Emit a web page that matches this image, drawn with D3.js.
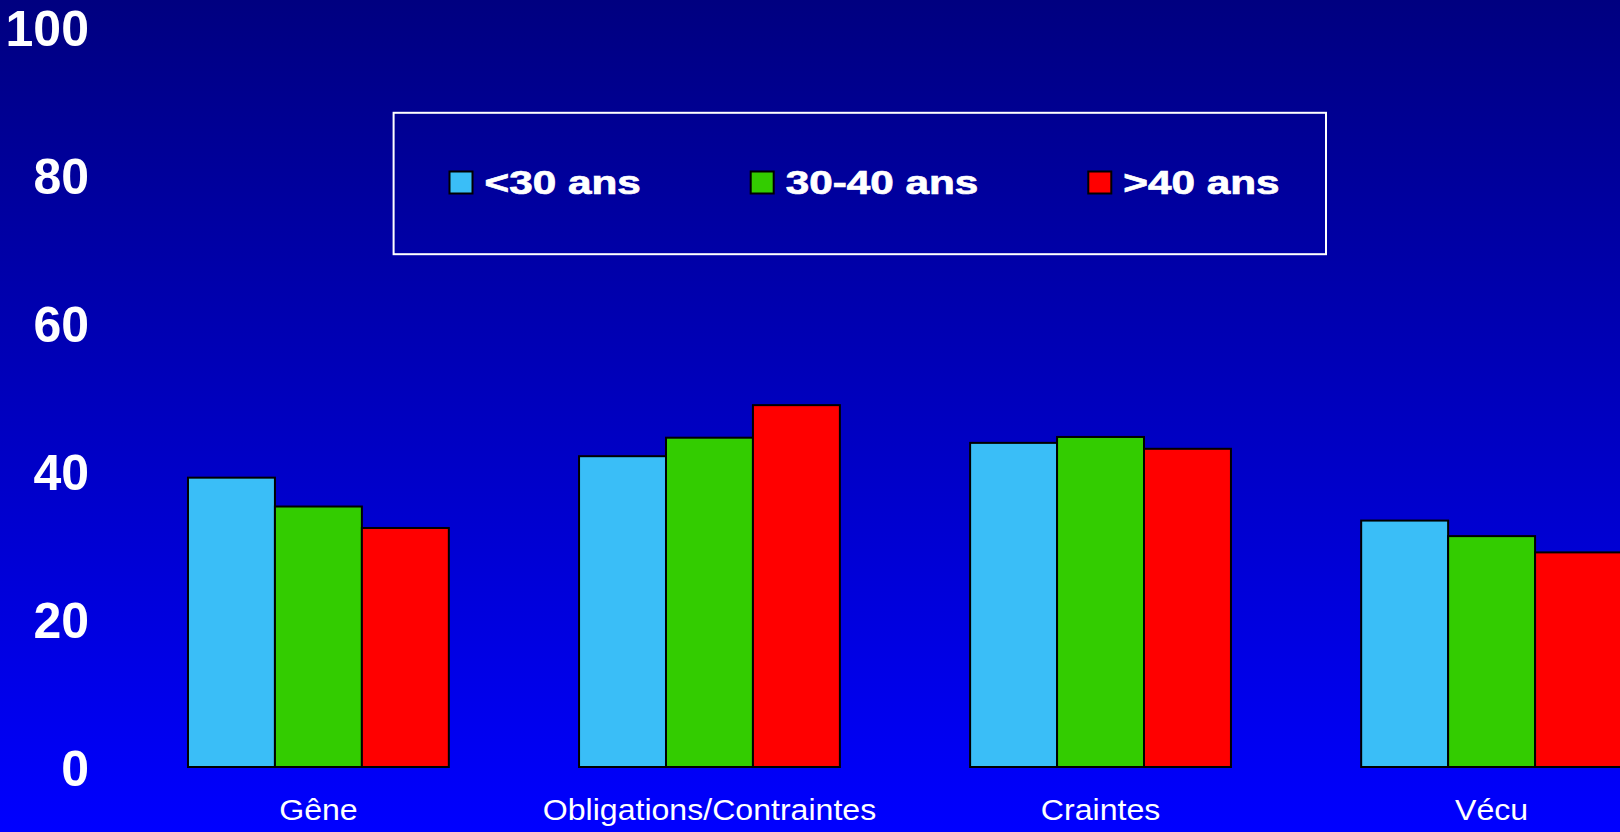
<!DOCTYPE html>
<html>
<head>
<meta charset="utf-8">
<script src="https://cdn.jsdelivr.net/npm/d3@7"></script>
<style>
  html, body { margin: 0; padding: 0; overflow: hidden; background: #0000ff; }
  svg { display: block; }
</style>
</head>
<body>
<svg id="chart" width="1620" height="832"></svg>
<script>
// ---- data ----
const categories = ["Gêne", "Obligations/Contraintes", "Craintes", "Vécu"];
const seriesNames = ["<30 ans", "30-40 ans", ">40 ans"];
const under30 = [39.1, 42.0, 43.8, 33.3];
const from30to40 = [35.2, 44.5, 44.6, 31.2];
const over40 = [32.3, 48.9, 43.0, 29.0];
const yTicks = [0, 20, 40, 60, 80, 100];
const seriesColors = ["#3abef7", "#33cc00", "#ff0000"];

const seriesValues = [under30, from30to40, over40];
const rows = categories.map((c, i) => ({
  category: c,
  values: seriesNames.map((s, j) => ({ series: s, value: seriesValues[j][i], color: seriesColors[j] }))
}));

const W = 1620, H = 832;
const svg = d3.select("#chart");

// background gradient
const defs = svg.append("defs");
const grad = defs.append("linearGradient").attr("id", "bg").attr("x1", 0).attr("y1", 0).attr("x2", 0).attr("y2", 1);
grad.append("stop").attr("offset", "0%").attr("stop-color", "#000080");
grad.append("stop").attr("offset", "100%").attr("stop-color", "#0000ff");
svg.append("rect").attr("width", W).attr("height", H).attr("fill", "url(#bg)");

// scales
const y = d3.scaleLinear().domain([0, 100]).range([767, 27]);
const x0 = d3.scaleBand().domain(categories).range([122.8, 1687.2]).paddingInner(0.333).paddingOuter(0.1667);
const x1 = d3.scaleBand().domain(seriesNames).range([0, x0.bandwidth()]).padding(0);

// bars
const groups = svg.append("g").selectAll("g").data(rows).join("g")
  .attr("transform", d => `translate(${x0(d.category)},0)`);
groups.selectAll("rect").data(d => d.values).join("rect")
  .attr("x", d => x1(d.series))
  .attr("y", d => y(d.value))
  .attr("width", x1.bandwidth())
  .attr("height", d => y(0) - y(d.value))
  .attr("fill", d => d.color)
  .attr("stroke", "#000")
  .attr("stroke-width", 2);

// y axis (labels only)
const yAxis = svg.append("g").attr("transform", "translate(89,0)")
  .call(d3.axisLeft(y).tickValues(yTicks).tickSize(0).tickPadding(0).tickFormat(d3.format("d")));
yAxis.select(".domain").remove();
yAxis.selectAll("text")
  .attr("x", 0).attr("dy", "0.36em")
  .attr("fill", "#fff")
  .style("font-family", "'Liberation Sans', Arial, sans-serif")
  .style("font-weight", "bold")
  .style("font-size", "50px");

// x axis (category labels)
const xAxis = svg.append("g").attr("transform", `translate(0,${y(0)})`)
  .call(d3.axisBottom(x0).tickSize(0).tickPadding(0));
xAxis.select(".domain").remove();
xAxis.selectAll("text")
  .attr("y", 0).attr("dy", 0)
  .attr("transform", "translate(0,52.5) scale(1.07,1)")
  .attr("fill", "#fff")
  .style("font-family", "'Liberation Sans', Arial, sans-serif")
  .style("font-weight", "normal")
  .style("font-size", "30px");

// legend
svg.append("rect")
  .attr("x", 393.6).attr("y", 112.8)
  .attr("width", 932.4).attr("height", 141.4)
  .attr("fill", "none").attr("stroke", "#fff").attr("stroke-width", 2);

const legend = svg.append("g");
let lx = 449.5;
const legendStretch = 1.3;
seriesNames.forEach((name, i) => {
  legend.append("rect")
    .attr("x", lx).attr("y", 171.5).attr("width", 23).attr("height", 22)
    .attr("fill", seriesColors[i]).attr("stroke", "#000").attr("stroke-width", 2);
  const tx = lx + 23 + 12;
  const t = legend.append("text")
    .attr("transform", `translate(${tx},193.5) scale(${legendStretch},1)`)
    .attr("fill", "#fff")
    .attr("stroke", "#fff")
    .attr("stroke-width", 0.7)
    .style("font-family", "'Liberation Sans', Arial, sans-serif")
    .style("font-weight", "bold")
    .style("font-size", "32.5px")
    .text(name);
  const w = t.node().getComputedTextLength() * legendStretch;
  lx = tx + w + 110;
});
</script>
</body>
</html>
